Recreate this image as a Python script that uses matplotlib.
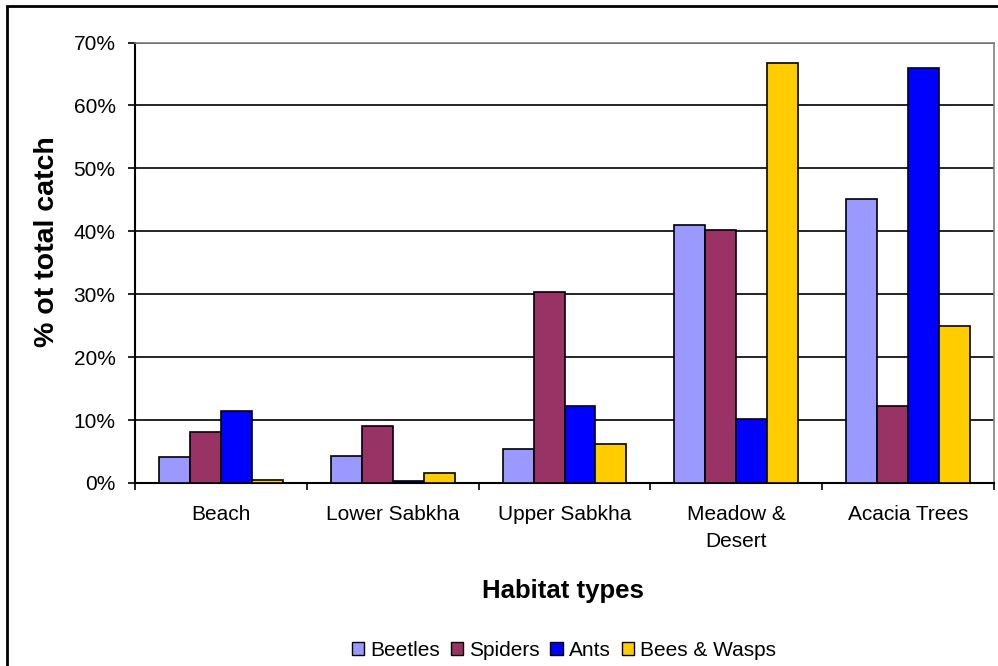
import matplotlib
matplotlib.use("Agg")
import matplotlib.pyplot as plt
import numpy as np
from matplotlib.patches import Rectangle
from matplotlib.ticker import FuncFormatter, MultipleLocator

plt.rcParams['font.family'] = ['Liberation Sans', 'DejaVu Sans']

categories = ["Beach", "Lower Sabkha", "Upper Sabkha", "Meadow &\nDesert", "Acacia Trees"]
series_names = ["Beetles", "Spiders", "Ants", "Bees & Wasps"]
beetles = [4.1, 4.35, 5.4, 41.0, 45.2]
spiders = [8.1, 9.1, 30.3, 40.2, 12.2]
ants = [11.45, 0.27, 12.2, 10.1, 65.9]
bees_wasps = [0.5, 1.55, 6.2, 66.7, 25.0]
colors = ["#9999FF", "#993366", "#0000FF", "#FFCC00"]

fig = plt.figure(figsize=(9.98, 6.66), dpi=100)
W, H = 998, 666
ax = fig.add_axes([135 / W, 1 - 483 / H, (994 - 135) / W, (483 - 42.5) / H])

x = np.arange(len(categories))
bw = 0.18
data = [beetles, spiders, ants, bees_wasps]
for i, (vals, c, name) in enumerate(zip(data, colors, series_names)):
    ax.bar(x + (i - 1.5) * bw, vals, width=bw, color=c, edgecolor="black",
           linewidth=1.2, label=name, zorder=3)

ax.set_xlim(-0.5, len(categories) - 0.5)
ax.set_ylim(0, 70)
ax.yaxis.set_major_locator(MultipleLocator(10))
ax.yaxis.set_major_formatter(FuncFormatter(lambda v, p: f"{int(round(v))}%"))
ax.grid(axis="y", color="black", linewidth=1.2, zorder=1)

ax.set_xticks(x)
ax.set_xticklabels(categories, fontsize=15, linespacing=1.5)
ax.tick_params(axis="x", length=0, pad=16)
ax.set_xticks(np.arange(-0.5, len(categories)), minor=True)
ax.tick_params(axis="x", which="minor", length=5, width=1.2, direction="out")
ax.tick_params(axis="y", length=5, width=1.2, direction="out", labelsize=15, pad=9)

for s in ["left", "bottom"]:
    ax.spines[s].set_color("black")
    ax.spines[s].set_linewidth(1.5)
for s in ["top", "right"]:
    ax.spines[s].set_color("#808080")
    ax.spines[s].set_linewidth(1.2)

fig.text(47 / W, 1 - 242 / H, "% ot total catch", rotation=90, fontsize=20.5,
         fontweight="bold", ha="center", va="center")
fig.text(563 / W, 1 - 598 / H, "Habitat types", fontsize=18.5, fontweight="bold",
         ha="center", va="baseline")

leg = fig.legend(loc="center", bbox_to_anchor=(564 / W, 1 - 650 / H), ncol=4,
                 frameon=False, fontsize=15, handlelength=0.6, handleheight=0.6,
                 handletextpad=0.3, columnspacing=0.5, borderpad=0)
for h in leg.legend_handles:
    h.set_linewidth(1.0)

fig.patches.append(Rectangle((7 / W, -0.05), 1.2, 1 - 6 / H + 0.05,
                             transform=fig.transFigure, fill=False,
                             edgecolor="black", linewidth=2))

fig.savefig("out.png", dpi=100)
